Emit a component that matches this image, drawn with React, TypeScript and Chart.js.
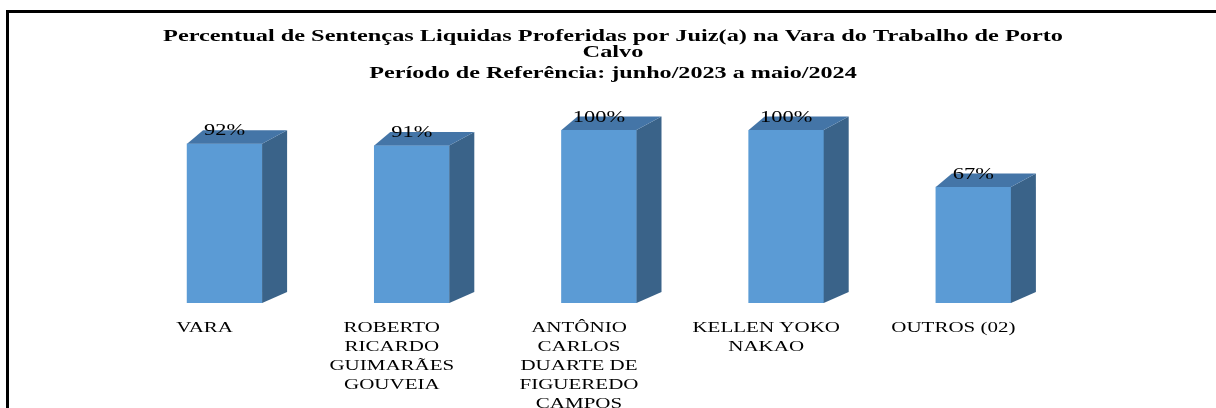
import React, { useEffect, useRef } from "react";
import { Chart, registerables } from "chart.js";

Chart.register(...registerables);

const titleLines = [
  "Percentual de Sentenças Liquidas Proferidas por Juiz(a) na Vara do Trabalho de Porto",
  "Calvo",
  "Período de Referência: junho/2023 a maio/2024",
];
const categoryLines: string[][] = [
  ["VARA"],
  ["ROBERTO", "RICARDO", "GUIMARÃES", "GOUVEIA"],
  ["ANTÔNIO", "CARLOS", "DUARTE DE", "FIGUEREDO", "CAMPOS"],
  ["KELLEN YOKO", "NAKAO"],
  ["OUTROS (02)"],
];
const values = [92, 91, 100, 100, 67];
const valueLabels = ["92%", "91%", "100%", "100%", "67%"];

const FRONT = "#5B9BD5";
const TOP = "#4475A7";
const SIDE = "#3A6389";
const SERIF = "'Liberation Serif', 'Times New Roman', serif";

function stretchedText(
  ctx: CanvasRenderingContext2D,
  text: string,
  cx: number,
  y: number,
  font: string,
  stretch = 1.4
) {
  ctx.save();
  ctx.font = font;
  ctx.textAlign = "center";
  ctx.textBaseline = "alphabetic";
  ctx.fillStyle = "#000";
  ctx.translate(cx, y);
  ctx.scale(stretch, 1);
  ctx.fillText(text, 0, 0);
  ctx.restore();
}

const decorPlugin = {
  id: "decor",
  beforeDraw(chart: any) {
    const ctx = chart.ctx as CanvasRenderingContext2D;
    ctx.save();
    ctx.fillStyle = "#fff";
    ctx.fillRect(0, 0, 1216, 408);
    ctx.strokeStyle = "#000";
    ctx.lineWidth = 3;
    ctx.lineCap = "butt";
    ctx.lineJoin = "miter";
    ctx.beginPath();
    ctx.moveTo(7.5, 410);
    ctx.lineTo(7.5, 11.5);
    ctx.lineTo(1220, 11.5);
    ctx.stroke();
    ctx.restore();
    const cx = 613;
    stretchedText(ctx, titleLines[0], cx, 41, `bold 17px ${SERIF}`, 1.43);
    stretchedText(ctx, titleLines[1], cx, 57, `bold 17px ${SERIF}`, 1.43);
    stretchedText(ctx, titleLines[2], cx, 78, `bold 17px ${SERIF}`, 1.42);
  },
  afterDatasetsDraw(chart: any) {
    const ctx = chart.ctx as CanvasRenderingContext2D;
    const meta = chart.getDatasetMeta(0);
    const dxL = 16, dxR = 25, dy = 13.5, dyB = 11;
    meta.data.forEach((bar: any, i: number) => {
      const { x, y, base, width } = bar.getProps(["x", "y", "base", "width"], true);
      const xl = x - width / 2;
      const xr = x + width / 2;
      ctx.save();
      ctx.fillStyle = SIDE;
      ctx.beginPath();
      ctx.moveTo(xr, y);
      ctx.lineTo(xr + dxR, y - dy);
      ctx.lineTo(xr + dxR, base - dyB);
      ctx.lineTo(xr, base);
      ctx.closePath();
      ctx.fill();
      ctx.fillStyle = TOP;
      ctx.beginPath();
      ctx.moveTo(xl, y);
      ctx.lineTo(xr, y);
      ctx.lineTo(xr + dxR, y - dy);
      ctx.lineTo(xl + dxL, y - dy);
      ctx.closePath();
      ctx.fill();
      ctx.restore();
      stretchedText(ctx, valueLabels[i], x, y - 8.5, `16px ${SERIF}`);
    });
  },
  afterDraw(chart: any) {
    const ctx = chart.ctx as CanvasRenderingContext2D;
    const xs = chart.scales.x;
    categoryLines.forEach((lines, i) => {
      const cx = xs.getPixelForValue(i) - 20;
      lines.forEach((line, j) => {
        stretchedText(ctx, line, cx, 332 + j * 19, `15px ${SERIF}`);
      });
    });
  },
};

export default function App() {
  const ref = useRef<HTMLCanvasElement | null>(null);
  useEffect(() => {
    if (!ref.current) return;
    const chart = new Chart(ref.current, {
      type: "bar",
      data: {
        labels: categoryLines.map((l) => l.join(" ")),
        datasets: [
          {
            data: values,
            backgroundColor: FRONT,
            borderWidth: 0,
            barThickness: 75,
          },
        ],
      },
      options: {
        responsive: false,
        animation: false,
        devicePixelRatio: 1,
        layout: { padding: { left: 131, right: 149, top: 130, bottom: 105 } },
        plugins: { legend: { display: false }, title: { display: false }, tooltip: { enabled: false } },
        scales: {
          x: { display: false, offset: true, grid: { display: false } },
          y: { display: false, min: 0, max: 100 },
        },
      },
      plugins: [decorPlugin],
    });
    return () => chart.destroy();
  }, []);
  return (
    <div style={{ position: "fixed", left: 0, top: 0, width: 1216, height: 408, background: "#fff", overflow: "hidden" }}>
      <canvas ref={ref} width={1216} height={408} style={{ display: "block", width: 1216, height: 408 }} />
    </div>
  );
}
